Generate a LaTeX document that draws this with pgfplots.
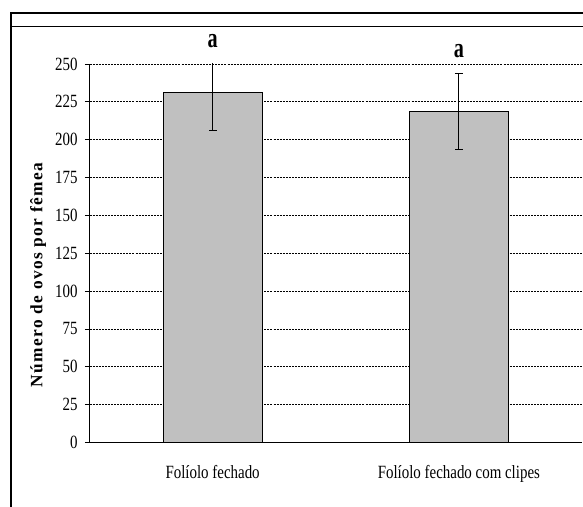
\documentclass[border=0pt]{standalone}
\usepackage{fontspec}
\setmainfont{Liberation Serif}[FakeStretch=0.8]
\newfontfamily\ylabfont{Liberation Serif}[LetterSpace=8]
\newfontfamily\letfont{Liberation Serif}[FakeStretch=0.72]
\usepackage{pgfplots}
\pgfplotsset{compat=1.18}
\definecolor{barfill}{RGB}{192,192,192}
\begin{document}
\begin{tikzpicture}
\useasboundingbox (0,0) rectangle (437.25pt,380.25pt);
\draw[line width=1.5pt] (8.25pt,0) -- (8.25pt,370.5pt) -- (437.25pt,370.5pt);
\draw[line width=0.6pt] (9pt,360.75pt) -- (437.25pt,360.75pt);
\begin{axis}[
  at={(67.125pt,48.375pt)}, anchor=south west,
  scale only axis, width=369.375pt, height=283.875pt,
  axis x line=bottom, axis y line=left,
  axis line style={-, line width=0.6pt, black},
  xmin=-0.5, xmax=1.5, ymin=0, ymax=250,
  ytick={0,25,...,250},
  xtick={0,1},
  xticklabels={Folíolo fechado, Folíolo fechado com clipes},
  major x tick style={draw=none},
  extra x ticks={-0.5,0.5,1.5},
  extra x tick labels={},
  extra x tick style={major tick length=4.5pt, tick align=outside, tick style={black, line width=0.6pt}},
  ytick style={black, line width=0.6pt},
  tick align=outside,
  major tick length=3.4pt,
  ymajorgrids,
  grid style={black, line width=0.6pt, dash pattern=on 1.5pt off 0.8pt},
  /pgf/number format/assume math mode=true,
  ticklabel style={font=\fontsize{14}{14}\selectfont},
  yticklabel style={xshift=-2pt},
  xticklabel style={yshift=-10pt},
  ybar, bar width=74.25pt,
]
\addplot[fill=barfill, draw=black, line width=0.7pt,
  error bars/.cd, y dir=both, y explicit,
  error bar style={black, line width=0.7pt},
  error mark options={rotate=90, mark size=3pt, line width=0.7pt}]
  coordinates {(0,231.3) +- (0,25) (1,218.5) +- (0,25)};
\coordinate (a1) at (axis cs:0,260.6);
\coordinate (a2) at (axis cs:1,254.6);
\end{axis}
\node[anchor=base, font=\letfont\bfseries\fontsize{21}{21}\selectfont] at (a1) {a};
\node[anchor=base, font=\letfont\bfseries\fontsize{21}{21}\selectfont] at (a2) {a};
\node[rotate=90, font=\ylabfont\bfseries\fontsize{13}{13}\selectfont] at (28.5pt,174pt) {Número de ovos por fêmea};
\end{tikzpicture}
\end{document}
